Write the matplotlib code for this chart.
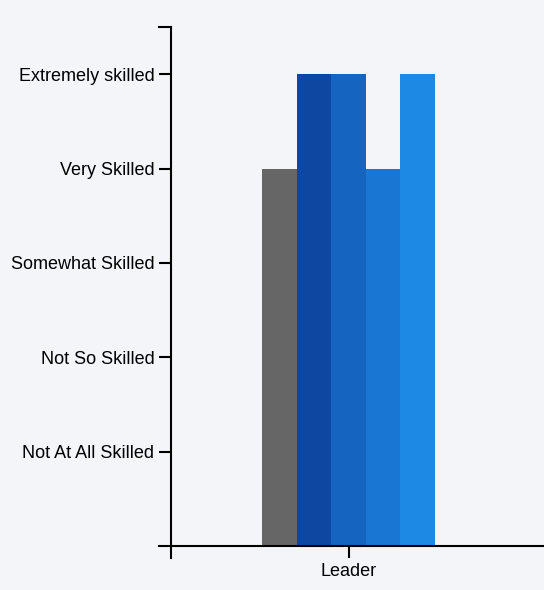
import matplotlib
matplotlib.use("Agg")
import matplotlib.pyplot as plt
from matplotlib.lines import Line2D

# data
category = "Leader"
series_values = [4, 5, 5, 4, 5]
series_colors = ["#666666", "#0d47a1", "#1565c0", "#1976d2", "#1e88e5"]
level_ticks = [1, 2, 3, 4, 5]
level_labels = ["Not At All Skilled", "Not So Skilled", "Somewhat Skilled",
                "Very Skilled", "Extremely skilled"]

bg = "#f4f5f9"
plt.rcParams['font.family'] = ['Liberation Sans', 'DejaVu Sans']

fig = plt.figure(figsize=(5.44, 5.90), dpi=100, facecolor=bg)
ax = fig.add_axes([171 / 544, 44 / 590, 373 / 544, 519 / 590], facecolor=bg)

# bars of the single group, side by side
n = len(series_values)
w = 1.0 / n
for i, (v, c) in enumerate(zip(series_values, series_colors)):
    ax.bar(-0.5 + w * (i + 0.5), v, width=w, color=c, edgecolor="none", linewidth=0)

ax.set_xlim(-1.026, 1.130)
ax.set_ylim(0, 5.5)

ax.set_yticks(level_ticks)
ax.set_yticklabels(level_labels, fontsize=13)
ax.set_xticks([0])
ax.set_xticklabels([category], fontsize=13)

for s in ["top", "right"]:
    ax.spines[s].set_visible(False)
for s in ["left", "bottom"]:
    ax.spines[s].set_linewidth(1.5)
    ax.spines[s].set_color("black")

ax.tick_params(axis="both", direction="out", length=8.5, width=1.5, color="black",
               labelcolor="black", pad=3.5)

# outer ticks at the domain ends like d3 axes
tl = 12 / 544 / (373 / 544)   # tick length in axes fraction (x)
tv = 12 / 590 / (519 / 590)   # tick length in axes fraction (y)
ax.add_line(Line2D([-tl, 0], [1, 1], transform=ax.transAxes, color="black",
                   lw=1.5, clip_on=False))
ax.add_line(Line2D([-tl, 0], [0, 0], transform=ax.transAxes, color="black",
                   lw=1.5, clip_on=False))
ax.add_line(Line2D([0, 0], [0, -tv], transform=ax.transAxes, color="black",
                   lw=1.5, clip_on=False))

fig.savefig("out.png", dpi=100, facecolor=bg)
